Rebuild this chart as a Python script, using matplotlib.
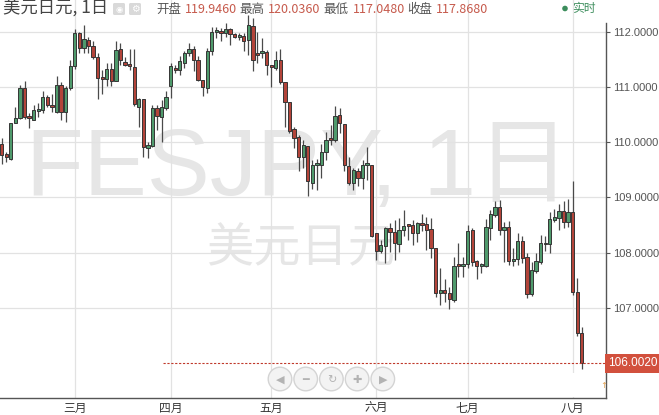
import matplotlib
matplotlib.use("Agg")
import matplotlib.pyplot as plt
import matplotlib.patches as mpatches
import matplotlib.transforms as mtransforms
import numpy as np
import pandas as pd

# USD/JPY daily candles, 2019-02-07 .. 2019-08-05
opens = [109.97, 109.79, 109.69, 110.34, 110.43, 110.98, 110.45, 110.40, 110.57, 110.58,
         110.81, 110.67, 110.55, 111.04, 110.55, 110.98, 111.37, 111.97, 111.70, 111.85,
         111.74, 111.54, 111.18, 111.15, 111.32, 111.11, 111.68, 111.45, 111.42, 111.36,
         110.64, 110.78, 109.89, 109.93, 110.61, 110.46, 110.61, 111.01, 111.34, 111.31,
         111.43, 111.62, 111.68, 111.48, 111.13, 110.98, 111.64, 111.99, 112.00, 111.98,
         112.04, 111.96, 111.90, 111.92, 111.84, 112.10, 111.61, 111.62, 111.63, 111.40,
         111.34, 111.49, 111.08, 110.73, 110.23, 110.09, 109.74, 109.93, 109.27, 109.58,
         109.58, 109.83, 110.08, 110.04, 110.49, 110.33, 109.56, 109.27, 109.48, 109.35,
         109.59, 109.59, 108.35, 108.04, 108.13, 108.44, 108.38, 108.16, 108.41, 108.51,
         108.50, 108.36, 108.53, 108.52, 108.43, 108.08, 107.28, 107.32, 107.28, 107.14,
         107.78, 107.76, 107.79, 108.41, 107.85, 107.76, 107.76, 108.44, 108.68, 108.83,
         108.41, 108.47, 107.86, 107.88, 108.21, 107.92, 107.25, 107.67, 107.83, 108.18,
         108.16, 108.60, 108.62, 108.76, 108.55, 108.73, 107.29, 106.55]
highs = [110.07, 109.83, 110.34, 110.63, 111.04, 111.11, 110.52, 110.67, 110.70, 110.93,
         110.86, 110.87, 111.19, 111.08, 111.02, 111.49, 112.04, 112.00, 112.11, 111.91,
         111.82, 111.62, 111.31, 111.44, 111.44, 111.82, 111.80, 111.54, 111.69, 111.69,
         110.80, 110.78, 110.01, 110.67, 110.67, 110.77, 110.93, 111.44, 111.40, 111.56,
         111.64, 111.80, 111.73, 111.55, 111.13, 111.70, 112.09, 112.08, 112.06, 112.15,
         112.06, 111.97, 111.97, 111.97, 112.30, 112.25, 111.99, 111.88, 111.67, 111.40,
         111.64, 111.68, 111.08, 110.73, 110.27, 110.13, 110.04, 109.93, 109.68, 109.69,
         109.97, 110.18, 110.31, 110.66, 110.61, 110.33, 109.73, 109.53, 109.53, 109.68,
         109.92, 109.59, 108.35, 108.23, 108.47, 108.53, 108.60, 108.62, 108.78, 108.51,
         108.60, 108.56, 108.71, 108.65, 108.62, 108.08, 107.72, 107.53, 107.38, 107.93,
         108.17, 107.92, 108.50, 108.45, 107.87, 107.82, 108.61, 108.77, 108.94, 108.95,
         108.55, 108.58, 108.09, 108.35, 108.30, 108.00, 107.84, 108.00, 108.33, 108.30,
         108.73, 108.79, 108.89, 108.93, 108.97, 109.29, 107.55, 106.65]
lows = [109.61, 109.65, 109.68, 110.34, 110.42, 110.42, 110.25, 110.40, 110.46, 110.52,
        110.63, 110.55, 110.52, 110.40, 110.36, 110.95, 111.32, 111.62, 111.61, 111.61,
        111.50, 110.78, 110.87, 111.01, 111.02, 111.10, 111.39, 111.37, 111.31, 110.66,
        110.28, 109.74, 109.71, 109.92, 110.22, 110.01, 110.58, 110.80, 111.25, 111.22,
        111.34, 111.55, 111.28, 111.10, 110.84, 110.89, 111.58, 111.88, 111.82, 111.91,
        111.75, 111.88, 111.84, 111.64, 111.58, 111.28, 111.43, 111.52, 111.22, 111.00,
        111.31, 111.05, 110.28, 110.16, 109.89, 109.47, 109.53, 109.02, 109.15, 109.14,
        109.35, 109.68, 109.95, 110.01, 110.16, 109.47, 109.23, 109.14, 109.20, 109.16,
        109.32, 108.29, 107.87, 107.99, 107.81, 108.02, 107.87, 108.02, 108.30, 108.23,
        108.14, 108.19, 108.39, 108.05, 107.90, 107.20, 107.05, 107.11, 106.98, 107.11,
        107.57, 107.57, 107.72, 107.76, 107.52, 107.64, 107.75, 108.24, 108.65, 108.32,
        107.84, 107.78, 107.76, 107.78, 107.82, 107.19, 107.21, 107.64, 107.80, 108.03,
        108.00, 108.55, 108.41, 108.44, 108.47, 107.23, 106.49, 105.90]
closes = [109.77, 109.73, 110.34, 110.43, 110.98, 110.45, 110.43, 110.58, 110.59, 110.81,
          110.67, 110.64, 111.04, 110.55, 110.98, 111.38, 111.97, 111.71, 111.86, 111.73,
          111.54, 111.16, 111.15, 111.32, 111.11, 111.67, 111.48, 111.40, 111.37, 110.69,
          110.78, 109.92, 109.95, 110.61, 110.48, 110.63, 110.81, 111.38, 111.30, 111.46,
          111.62, 111.68, 111.48, 111.13, 110.99, 111.64, 111.99, 112.01, 111.98, 112.05,
          111.95, 111.90, 111.93, 111.82, 112.12, 111.48, 111.58, 111.63, 111.39, 111.35,
          111.49, 111.08, 110.72, 110.21, 110.07, 109.74, 109.95, 109.29, 109.59, 109.59,
          109.82, 110.03, 110.03, 110.48, 110.34, 109.58, 109.27, 109.50, 109.35, 109.59,
          109.61, 108.31, 108.04, 108.14, 108.44, 108.38, 108.17, 108.42, 108.49, 108.49,
          108.35, 108.53, 108.51, 108.42, 108.08, 107.28, 107.32, 107.28, 107.16, 107.77,
          107.76, 107.80, 108.40, 107.84, 107.76, 107.80, 108.47, 108.71, 108.83, 108.41,
          108.47, 107.86, 107.89, 108.21, 107.91, 107.25, 107.68, 107.85, 108.18, 108.15,
          108.61, 108.64, 108.76, 108.55, 108.73, 107.29, 106.55, 106.002]
start_day = "2019-02-07"
month_names = {3: "三月", 4: "四月", 5: "五月", 6: "六月", 7: "七月", 8: "八月"}
y_ticks = [107, 108, 109, 110, 111, 112]
title = "美元日元, 1日"
header = [("开盘", "119.9460"), ("最高", "120.0360"), ("最低", "117.0480"), ("收盘", "117.8680")]

GREEN = "#4f9a6c"
RED = "#b3443a"
EDGE = "#353535"
GRID = "#e2e2e2"
CJK = ["Noto Sans CJK SC", "DejaVu Sans"]

W, H = 659, 415
fig = plt.figure(figsize=(W / 100, H / 100), dpi=100, facecolor="white")
ax = fig.add_axes([0, 17.3 / H, 606 / W, 1 - 17.3 / H])

dates = pd.bdate_range(start_day, periods=len(closes))
x = np.arange(len(closes))
o = np.array(opens); h = np.array(highs); l = np.array(lows); c = np.array(closes)
up = c >= o

# wicks then bodies
ax.vlines(x, l, h, color="#4a4a4a", linewidth=0.9, zorder=3)
bottom = np.minimum(o, c)
height = np.maximum(np.abs(c - o), 0.035)
ax.bar(x[up], height[up], bottom=bottom[up], width=0.72, color=GREEN,
       edgecolor=EDGE, linewidth=0.7, zorder=4)
ax.bar(x[~up], height[~up], bottom=bottom[~up], width=0.72, color=RED,
       edgecolor=EDGE, linewidth=0.7, zorder=4)

ax.set_xlim(-0.37, 132.3)
ax.set_ylim(105.38, 112.57)

# month ticks at first trading day of each month
months = dates.month
mpos = [i for i in range(1, len(dates)) if months[i] != months[i - 1]]
ax.set_xticks(mpos)
ax.set_xticklabels([month_names[months[i]] for i in mpos], family=CJK, fontsize=8.5, color="#333333")
ax.tick_params(axis="x", length=0, pad=3)

ax.yaxis.tick_right()
ax.set_yticks(y_ticks)
ax.set_yticklabels([f"{v:.4f}" for v in y_ticks], family="Liberation Sans", fontsize=8, color="#555555")
ax.tick_params(axis="y", length=3, width=0.8, color="#555555", pad=2)

ax.grid(True, color=GRID, linewidth=0.9)
ax.set_axisbelow(True)
for s in ["top", "left"]:
    ax.spines[s].set_visible(False)
ax.spines["bottom"].set_color("#555555")
ax.spines["right"].set_color("#555555")
ax.spines["bottom"].set_linewidth(1.0)
ax.spines["right"].set_linewidth(1.0)
ax.spines["right"].set_bounds(105.38, 112.16)

# watermark
ax.text(26 / 606, 1 - 195 / 397.7, "FESJPY, 1日", transform=ax.transAxes,
        family=["Liberation Sans", "Noto Sans CJK SC"], fontsize=68, color="#e6e6e6",
        ha="left", va="baseline", zorder=0.2)
ax.text(206 / 606, 1 - 249 / 397.7, "美元日元", transform=ax.transAxes,
        family=CJK, fontsize=34, color="#e6e6e6", ha="left", va="center", zorder=0.2)

# last price line and label
last = closes[-1]
ax.axhline(last, xmin=163 / 606, xmax=1, color="#c0392b", linewidth=0.8,
           linestyle=(0, (2, 1.5)), zorder=5)
trans = mtransforms.blended_transform_factory(ax.transAxes, ax.transData)
ax.text(1.003, last, f"{last:.4f}", transform=trans, ha="left", va="center",
        family="Liberation Sans", fontsize=8.5, color="white", clip_on=False, zorder=6,
        bbox=dict(boxstyle="square,pad=0.28", fc="#d2503d", ec="none"))

# overlay in pixel coords for header and nav buttons
ov = fig.add_axes([0, 0, 1, 1], zorder=10)
ov.set_xlim(0, W)
ov.set_ylim(H, 0)
ov.axis("off")
ov.patch.set_alpha(0)

ov.text(3, 9, title, family=CJK, fontsize=12.5, color="#444444", ha="left", va="center")
for bx in (113, 129):
    ov.add_patch(mpatches.FancyBboxPatch((bx, 3), 12, 12, boxstyle="round,pad=0,rounding_size=1.5",
                                         fc="#d9d9d9", ec="none"))
ov.text(119, 9.2, "◉", fontsize=6, color="white", ha="center", va="center")
ov.text(135, 9.2, "⚙", fontsize=7, color="white", ha="center", va="center")

hx = [(156, 185), (239, 268), (323, 353), (407, 436)]
for (lab, val), (lx, vx) in zip(header, hx):
    ov.text(lx, 9.5, lab, family=CJK, fontsize=9, color="#555555", ha="left", va="center")
    ov.text(vx, 9.5, val, family=CJK, fontsize=9, color="#c65a4c", ha="left", va="center")
ov.add_patch(mpatches.Circle((565, 8.5), 2.8, fc="#3c8d5c", ec="none"))
ov.text(572, 8.5, "实时", family=CJK, fontsize=8.5, color="#3c8d5c", ha="left", va="center")

# white patch at bottom-right and the nav buttons
ov.add_patch(mpatches.Rectangle((493, 373), 110, 24, fc="white", ec="none"))
icons = ["◀", "━", "↻", "✚", "▶"]
for i, ic in enumerate(icons):
    cx = 280 + i * 25.7
    ov.add_patch(mpatches.Circle((cx, 379), 11.8, fc="#f3f3f3", ec="#d4d4d4", lw=1.0))
    ov.text(cx, 379.5, ic, fontsize=8, color="#b3b3b3", ha="center", va="center")
ov.text(604, 385, "↑", fontsize=6, color="#e0a050", ha="center", va="center")

fig.savefig("out.png", dpi=100, facecolor="white")
